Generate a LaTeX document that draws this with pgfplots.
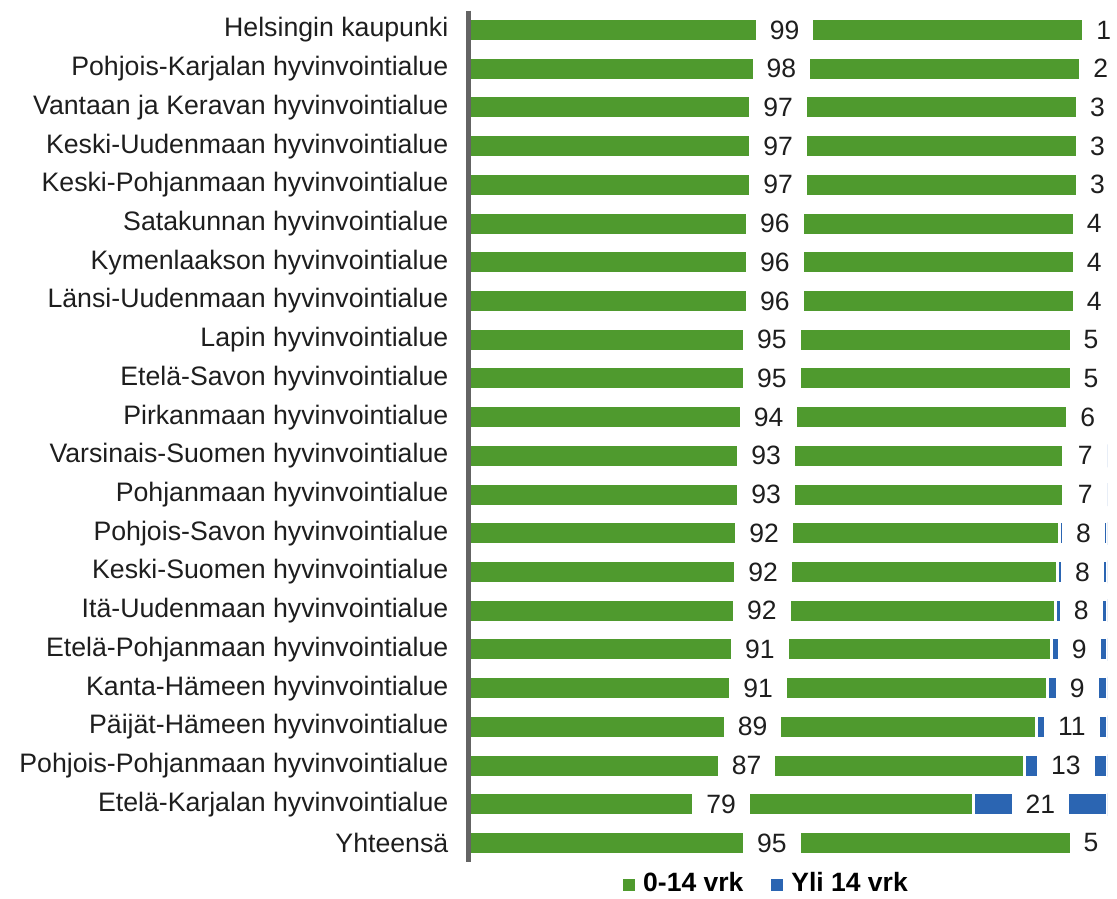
\documentclass[border=0pt]{standalone}
\usepackage{fontspec}
\setmainfont{Liberation Sans}
\usepackage{pgfplots}
\usepackage{pgfplotstable}
\pgfplotsset{compat=1.18}
\definecolor{mygreen}{RGB}{79,154,46}
\definecolor{myblue}{RGB}{43,101,178}
\definecolor{axisgray}{RGB}{100,100,100}
\definecolor{txt}{RGB}{30,30,30}

\pgfplotstableread{
y  g     b    gl  bl
0  99    1    99  1
1  98    2    98  2
2  97    3    97  3
3  97    3    97  3
4  97    3    97  3
5  96    4    96  4
6  96    4    96  4
7  96    4    96  4
8  95    5    95  5
9  95    5    95  5
10 94    6    94  6
11 93.2  6.8  93  7
12 93.2  6.8  93  7
13 92.6  7.4  92  8
14 92.3  7.7  92  8
15 91.9  8.1  92  8
16 91.3  8.7  91  9
17 90.7  9.3  91  9
18 89.0  11.0 89  11
19 87.1  12.9 87  13
20 79.1  20.9 79  21
21 95    5    95  5
}\data

\begin{document}
\begin{tikzpicture}
\useasboundingbox (0,0) rectangle (1117bp,-899bp);
\begin{axis}[
  at={(468.5bp,-10.6bp)}, anchor=north west,
  scale only axis, width=638.5bp, height=851.7bp,
  xmin=0, xmax=100, ymin=-0.5, ymax=21.5, y dir=reverse,
  axis on top,
  hide x axis,
  axis y line*=left,
  y axis line style={draw=axisgray, line width=4bp, -},
  major tick length=0pt,
  ytick={0,...,21},
  yticklabels={Helsingin kaupunki,Pohjois-Karjalan hyvinvointialue,Vantaan ja Keravan hyvinvointialue,Keski-Uudenmaan hyvinvointialue,Keski-Pohjanmaan hyvinvointialue,Satakunnan hyvinvointialue,Kymenlaakson hyvinvointialue,Länsi-Uudenmaan hyvinvointialue,Lapin hyvinvointialue,Etelä-Savon hyvinvointialue,Pirkanmaan hyvinvointialue,Varsinais-Suomen hyvinvointialue,Pohjanmaan hyvinvointialue,Pohjois-Savon hyvinvointialue,Keski-Suomen hyvinvointialue,Itä-Uudenmaan hyvinvointialue,Etelä-Pohjanmaan hyvinvointialue,Kanta-Hämeen hyvinvointialue,Päijät-Hämeen hyvinvointialue,Pohjois-Pohjanmaan hyvinvointialue,Etelä-Karjalan hyvinvointialue,Yhteensä},
  yticklabel style={font=\fontsize{26.7bp}{30bp}\selectfont, text=txt, anchor=east, inner xsep=0pt, xshift=-20bp},
  legend columns=2,
  reverse legend,
  legend style={draw=none, fill=none, at={(0.242,-0.0237)}, anchor=west, inner sep=0pt,
    font=\fontsize{26.5bp}{30bp}\selectfont\bfseries, text=black,
    nodes={inner sep=0pt},
    /tikz/every even column/.style={column sep=28bp}},
  nodes near coords style={font=\fontsize{26.5bp}{30bp}\selectfont, text=txt, fill=white, anchor=center, inner xsep=14bp, inner ysep=5bp},
]
\addplot[xbar, bar width=23bp, bar shift=0pt, fill=myblue, draw=white, line width=3bp,
  legend image code/.code={\fill[myblue] (0bp,-7bp) rectangle (9bp,2bp); \path (17bp,0bp);}]
  table[x expr=\thisrow{g}+\thisrow{b}, y=y] {\data};
\addlegendentry{Yli 14 vrk}
\addplot[xbar, bar width=23bp, bar shift=0pt, fill=mygreen, draw=white, line width=3bp,
  legend image code/.code={\fill[mygreen] (0bp,-7bp) rectangle (9bp,2bp); \path (17bp,0bp);}]
  table[x=g, y=y] {\data};
\addlegendentry{0-14 vrk}
\addplot[draw=none, mark=none, nodes near coords, point meta=explicit symbolic, forget plot]
  table[x expr=\thisrow{g}/2, y=y, meta=gl] {\data};
\addplot[draw=none, mark=none, nodes near coords, point meta=explicit symbolic, forget plot]
  table[x expr=\thisrow{g}+\thisrow{b}/2, y=y, meta=bl] {\data};
\end{axis}
\end{tikzpicture}
\end{document}
